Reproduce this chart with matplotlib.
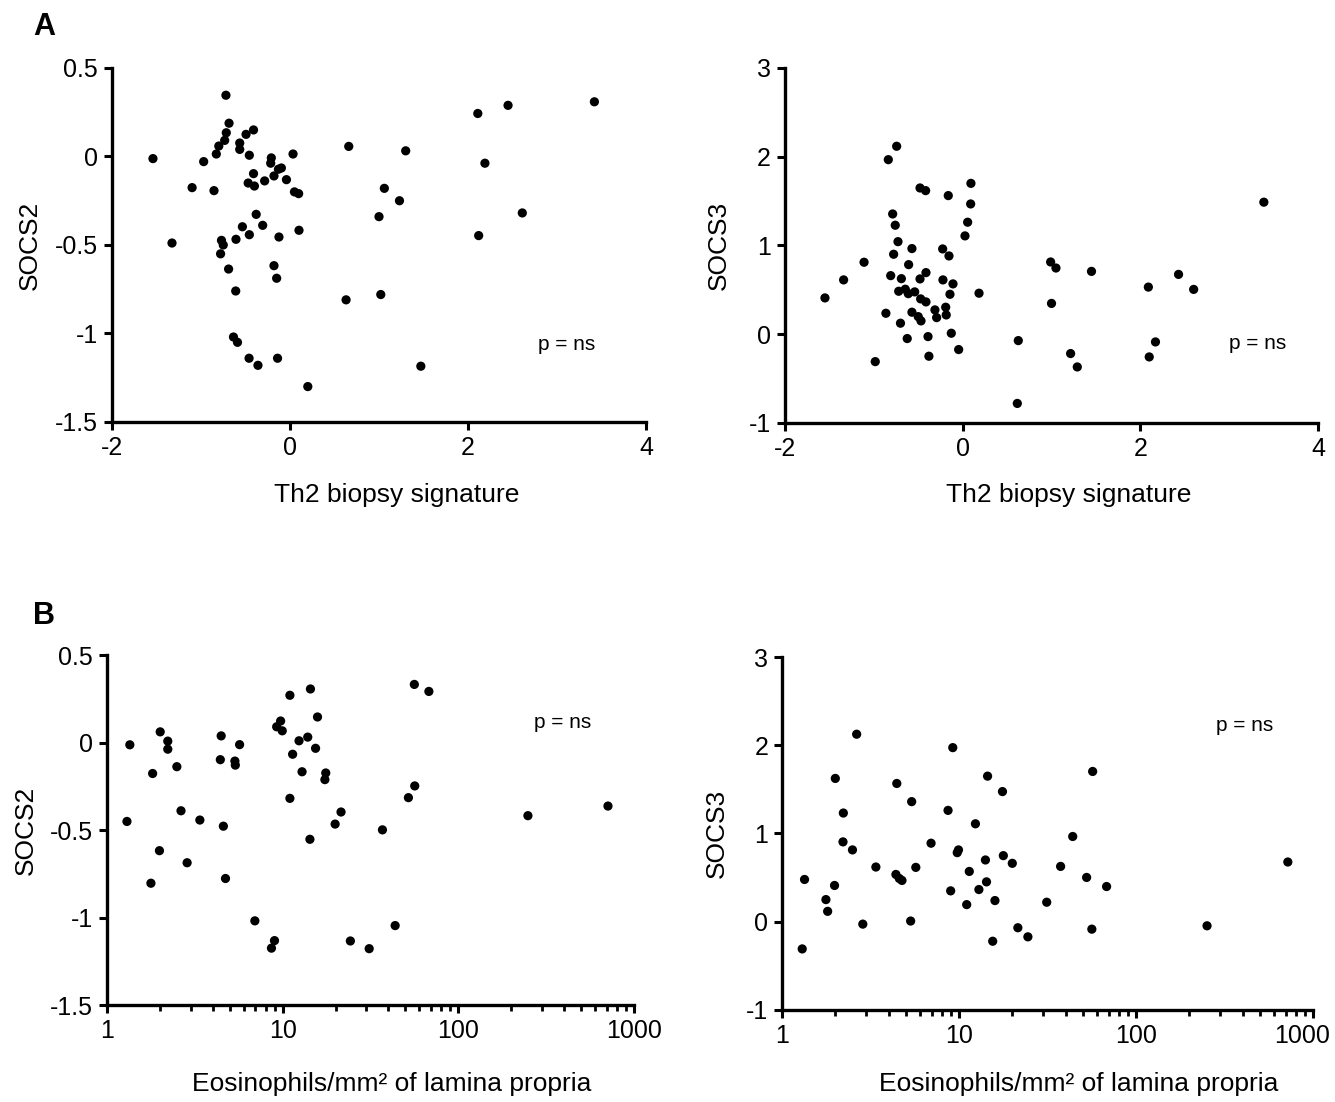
import matplotlib as mpl

mpl.use('Agg')

import matplotlib.pyplot as plt
from matplotlib.ticker import FuncFormatter
from matplotlib.transforms import ScaledTranslation

plt.rcParams['font.family'] = ['Liberation Sans', 'DejaVu Sans']
plt.rcParams['axes.unicode_minus'] = False

# --- panel A: Th2 biopsy signature vs SOCS2 ---
th2_a_socs2 = [-0.72, -0.685, -0.716, -0.734, -0.80, -0.828, -1.54, -0.97, -1.10, -0.854,
               -1.326, -0.494, -0.41, -0.565, -0.565, -0.457, -0.21, -0.217, 0.034, -0.13,
               -0.097, -0.41, -0.18, -0.285, -0.04, -0.47, -0.40, 0.05, 0.097, -0.38,
               -0.535, -0.307, -0.457, -0.607, -0.124, 0.101, -0.77, -0.75, -0.78, -0.69,
               -0.18, -0.15, -0.61,
               -0.635, -0.59, -0.46, -0.36, -0.14, 0.20, 0.66, 1.30, 1.06, 1.23,
               1.00, 0.63, 1.02, 1.47, 2.11, 2.45, 3.42, 2.19, 2.12, 2.61]
socs2_a = [0.346, 0.188, 0.134, 0.091, 0.059, 0.014, -0.012, -0.029, -0.176, -0.193,
           -0.489, 0.125, 0.15, 0.076, 0.04, 0.007, -0.008, -0.038, 0.014, -0.072,
           -0.065, -0.097, -0.11, -0.138, -0.131, -0.15, -0.167, -0.20, -0.21, -0.327,
           -0.397, -0.389, -0.442, -0.468, -0.455, -0.417, -0.474, -0.50, -0.55, -0.636,
           -0.617, -0.688, -0.76,
           -1.02, -1.05, -1.14, -1.18, -1.14, -1.30, 0.057, 0.032, -0.18, -0.25,
           -0.34, -0.81, -0.78, -1.185, 0.243, 0.289, 0.309, -0.038, -0.447, -0.319]

# --- panel A: Th2 biopsy signature vs SOCS3 ---
th2_a_socs3 = [-0.743, -0.837, -0.48, -0.417, -0.162, 0.093, 0.09, 0.056, 0.026, -0.788,
               -0.759, -0.728, -0.571, -0.777, -0.225, -0.154, -1.11, -0.608, -1.34, -1.55,
               -0.81, -0.69, -0.48, -0.413, -0.222, -0.109, -0.72, -0.646, -0.612, -0.54,
               -0.143, 0.184, -0.473, -0.413, -0.864, -0.571, -0.50, -0.469, -0.312, -0.293,
               -0.191, -0.185, -0.70, -0.624, -0.39, -0.128, -0.045, -0.38, -0.984, 0.626,
               0.615, 0.99, 1.05, 1.00, 1.45, 1.215, 1.29, 2.09, 2.10, 2.17,
               2.43, 2.60, 3.39]
socs3_a = [2.118, 1.967, 1.648, 1.618, 1.562, 1.70, 1.468, 1.262, 1.108, 1.355,
           1.228, 1.043, 0.965, 0.901, 0.961, 0.882, 0.811, 0.784, 0.612, 0.409,
           0.66, 0.626, 0.623, 0.694, 0.612, 0.567, 0.484, 0.507, 0.457, 0.477,
           0.45, 0.462, 0.398, 0.364, 0.236, 0.248, 0.198, 0.15, 0.274, 0.187,
           0.304, 0.217, 0.124, -0.049, -0.027, 0.011, -0.173, -0.248, -0.309, -0.072,
           -0.78, 0.814, 0.746, 0.347, 0.708, -0.218, -0.369, 0.531, -0.256, -0.087,
           0.674, 0.505, 1.488]

# --- panel B: eosinophils vs SOCS2 ---
eos_b_socs2 = [1.35, 1.30, 1.82, 1.78, 2.01, 1.99, 2.22, 2.22, 2.50, 2.64,
               2.86, 3.38, 4.47, 4.42, 4.60, 4.73, 5.35, 5.38, 5.69, 6.95,
               8.64, 8.99,
               14.4, 11.0, 15.8, 9.74, 9.25, 9.95, 13.9, 12.4, 15.4, 11.4,
               12.9, 17.6, 17.4, 11.0,
               14.3, 19.9, 21.5, 24.3, 31.1, 37.0, 43.7, 52.0, 56.2, 56.5,
               68.0, 249, 711]
socs2_b = [-0.013, -0.451, -0.177, -0.804, 0.061, -0.618, 0.008, -0.038, -0.138, -0.39,
           -0.687, -0.443, 0.038, -0.098, -0.478, -0.777, -0.106, -0.129, -0.012, -1.019,
           -1.175, -1.132,
           0.306, 0.27, 0.146, 0.123, 0.09, 0.067, 0.031, 0.01, -0.033, -0.067,
           -0.167, -0.174, -0.212, -0.319,
           -0.553, -0.466, -0.397, -1.134, -1.178, -0.499, -1.046, -0.315, 0.332, -0.248,
           0.292, -0.418, -0.363]

# --- panel B: eosinophils vs SOCS3 ---
eos_b_socs3 = [1.30, 1.34, 1.77, 1.81, 1.98, 2.00, 2.22, 2.21, 2.50, 2.64,
               2.86, 3.39, 4.45, 4.40, 4.60, 4.76, 5.40, 5.33, 5.70, 6.95,
               8.67, 8.97, 9.22, 9.77, 9.93, 11.05, 11.43, 12.38, 12.95, 14.1,
               14.3, 14.5, 15.5, 15.96, 17.6, 17.8, 20.0, 21.5, 24.5, 31.3,
               37.5, 43.9, 52.6, 56.9, 56.3, 68.2, 252, 721]
socs3_b = [-0.308, 0.479, 0.251, 0.118, 0.411, 1.624, 1.232, 0.905, 0.814, 2.125,
           -0.027, 0.62, 1.567, 0.536, 0.49, 0.468, 1.361, 0.008, 0.616, 0.89,
           1.262, 0.35, 1.973, 0.783, 0.814, 0.194, 0.57, 1.11, 0.365, 0.70,
           0.452, 1.65, -0.221, 0.24, 1.475, 0.749, 0.662, -0.068, -0.171, 0.221,
           0.627, 0.966, 0.502, 1.703, -0.084, 0.399, -0.046, 0.677]

th2_ticks = [-2, 0, 2, 4]
eos_ticks = [1, 10, 100, 1000]
socs2_ticks = [0.5, 0, -0.5, -1, -1.5]
socs3_ticks = [3, 2, 1, 0, -1]

xlabel_th2 = 'Th2 biopsy signature'
xlabel_eos = 'Eosinophils/mm² of lamina propria'


def fmt(v, pos):
    return '%g' % v


def style_axes(ax):
    for side in ('top', 'right'):
        ax.spines[side].set_visible(False)
    for side in ('left', 'bottom'):
        ax.spines[side].set_linewidth(2.4)
    ax.tick_params(which='major', direction='out', length=6, width=2.2,
                   labelsize=18, pad=4)
    ax.tick_params(which='minor', direction='out', length=4, width=2.0)
    ax.xaxis.set_major_formatter(FuncFormatter(fmt))
    ax.yaxis.set_major_formatter(FuncFormatter(fmt))


def scatter_panel(ax, x, y, xticks, yticks, xlabel, ylabel, log, p_pos,
                  xlab_pos, ylab_x):
    ax.scatter(x, y, s=44, c='k', edgecolors='none', zorder=3)
    if log:
        ax.set_xscale('log')
    ax.set_xlim(xticks[0], xticks[-1])
    ax.set_ylim(min(yticks), max(yticks))
    ax.set_xticks(xticks)
    ax.set_yticks(yticks)
    style_axes(ax)
    ax.set_xlabel(xlabel, fontsize=19)
    ax.set_ylabel(ylabel, fontsize=19)
    ax.xaxis.set_label_coords(*xlab_pos)
    ax.yaxis.set_label_coords(ylab_x, 0.5)
    ax.text(p_pos[0], p_pos[1], 'p = ns', transform=ax.transAxes,
            fontsize=15, ha='left', va='center')


def main():
    fig = plt.figure(figsize=(13.35, 11.02), dpi=100)

    ax1 = fig.add_axes([0.0839, 0.6171, 0.4000, 0.3212])
    ax2 = fig.add_axes([0.5880, 0.6162, 0.3993, 0.3221])
    ax3 = fig.add_axes([0.0801, 0.0880, 0.3948, 0.3176])
    ax4 = fig.add_axes([0.5858, 0.0835, 0.3977, 0.3203])

    scatter_panel(ax1, th2_a_socs2, socs2_a, th2_ticks, socs2_ticks,
                  xlabel_th2, 'SOCS2', False, (0.798, 0.220), (0.534, -0.172), -0.132)
    scatter_panel(ax2, th2_a_socs3, socs3_a, th2_ticks, socs3_ticks,
                  xlabel_th2, 'SOCS3', False, (0.833, 0.223), (0.533, -0.169), -0.101)
    scatter_panel(ax3, eos_b_socs2, socs2_b, eos_ticks, socs2_ticks,
                  xlabel_eos, 'SOCS2', True, (0.810, 0.806), (0.541, -0.191), -0.132)
    scatter_panel(ax4, eos_b_socs3, socs3_b, eos_ticks, socs3_ticks,
                  xlabel_eos, 'SOCS3', True, (0.817, 0.807), (0.558, -0.176), -0.100)

    # "1000" sits right at the figure edge, nudge it left a little
    last = ax4.get_xticklabels()[-1]
    last.set_transform(last.get_transform() + ScaledTranslation(-8 / 72, 0, fig.dpi_scale_trans))

    # panel letters
    fig.text(0.0247, 0.989, 'A', fontsize=22, fontweight='bold', ha='left', va='top')
    fig.text(0.0247, 0.455, 'B', fontsize=22, fontweight='bold', ha='left', va='top')

    fig.savefig('out.png', dpi=100)


main()
